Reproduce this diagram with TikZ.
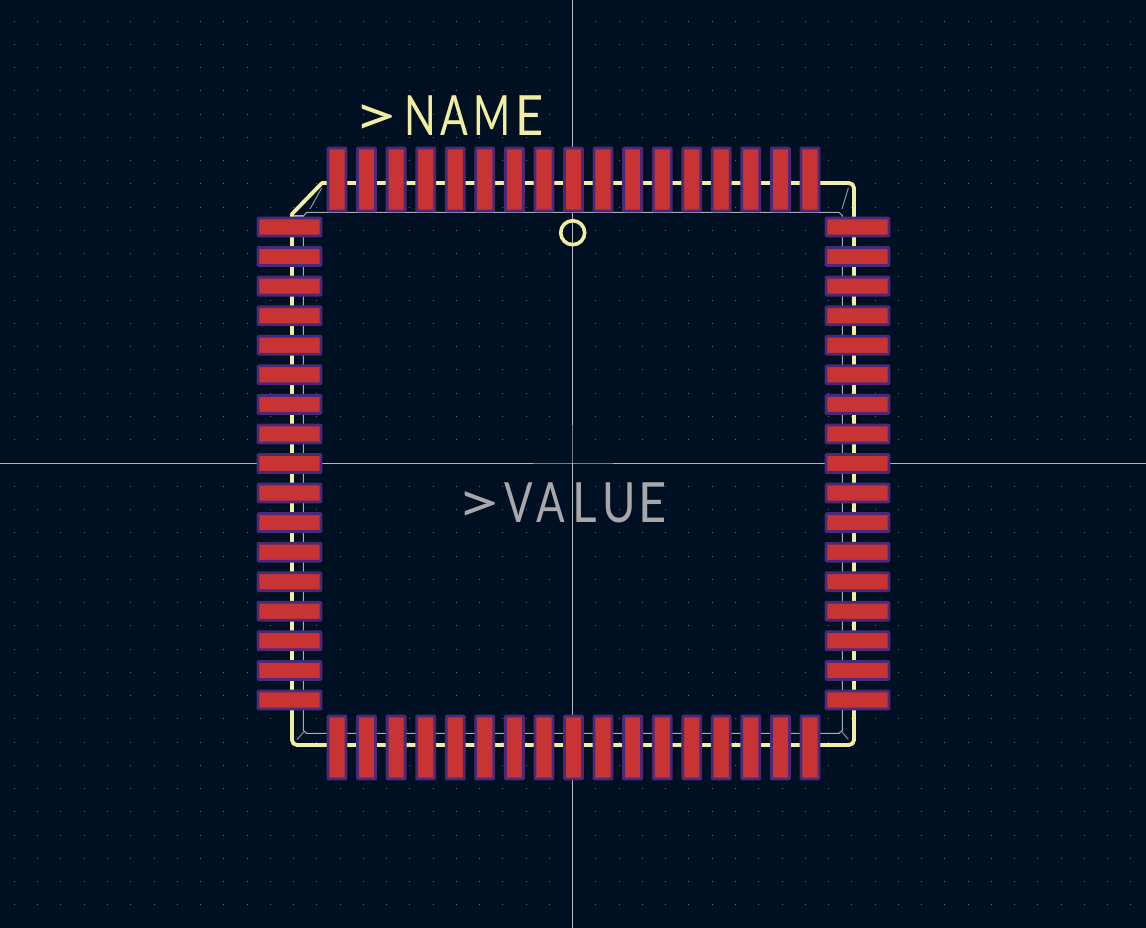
\documentclass[tikz,border=0pt]{standalone}
\usepackage{fontspec}
\setmainfont{Lato}
\newcommand\glyphat[3]{\makebox[#1pt][l]{\scalebox{#2}[1]{#3}}}
\begin{document}
\begin{tikzpicture}[x=1pt,y=-1pt,
  griddot/.style={fill=dotc,draw=none},
  axisline/.style={draw=axisc,line width=1pt},
  axisdim/.style={draw=axisd,line width=1pt},
  fabline/.style={draw=fabc,line width=1pt},
  fabthin/.style={draw=fabd,line width=1pt},
  silkline/.style={draw=silk,line width=3.8pt,line cap=round,line join=round},
  padbox/.style={draw=padedge,fill=padred,line width=2.8pt,rounded corners=0.8pt},
  bigtext/.style={inner sep=0,outer sep=0,font=\fontsize{55.5}{60}\selectfont,anchor=base west}
]
\definecolor{bgc}{HTML}{001023}
\definecolor{dotc}{HTML}{646C76}
\definecolor{axisc}{HTML}{B4B8BC}
\definecolor{axisd}{HTML}{7A7E84}
\definecolor{fabc}{HTML}{A8ACB4}
\definecolor{fabd}{HTML}{8F949C}
\definecolor{silk}{HTML}{F2EDA1}
\definecolor{valc}{HTML}{A8A8AC}
\definecolor{padred}{HTML}{C83434}
\definecolor{padedge}{HTML}{4A2A78}
\useasboundingbox (0,0) rectangle (1146,928);
\fill[bgc] (0,0) rectangle (1146,928);
% grid dots
\foreach \i in {-24,...,24}{
  \foreach \j in {-19,...,20}{
    \pgfmathsetmacro{\px}{floor(572.7+\i*23.26)}
    \pgfmathsetmacro{\py}{floor(463+\j*23.26)}
    \fill[griddot] (\px,\py) rectangle ++(1,1);
  }
}
% origin axes
\draw[axisline] (0,463.5) -- (533,463.5);
\draw[axisdim] (533,463.5) -- (613,463.5);
\draw[axisline] (613,463.5) -- (1146,463.5);
\draw[axisline] (572.7,0) -- (572.7,425);
\draw[axisdim] (572.7,425) -- (572.7,463);
\draw[axisline] (572.7,463) -- (572.7,928);
% fabrication outline
\draw[fabline] (306.7,212.3) -- (839,212.3) -- (842.3,215.5) -- (842.3,730.5) -- (839,733.3) -- (306.7,733.3) -- (303.4,730.5) -- (303.4,216) -- cycle;
\draw[fabline,line width=2pt] (293,216) -- (303.4,216);
\draw[fabthin] (310,209) -- (321.7,188);
\draw[fabthin] (842,209) -- (848.3,188);
\draw[fabthin] (297,739.5) -- (304,731.7);
\draw[fabthin] (841.7,731.7) -- (848.3,739.3);
% silkscreen outline
\draw[silkline] (292,222) -- (292,214) -- (322,183);
\draw[silkline,rounded corners=5pt] (322,183) -- (854,183) -- (854,745) -- (292,745) -- (292,222);
% pads
\foreach \n in {0,...,16}{
  \pgfmathsetmacro{\tx}{337+\n*29.56}
  \pgfmathsetmacro{\ly}{227+\n*29.56}
  \draw[padbox] (\tx-9,148) rectangle (\tx+9,211);
  \draw[padbox] (\tx-9,716) rectangle (\tx+9,779);
  \draw[padbox] (258,\ly-9) rectangle (321,\ly+9);
  \draw[padbox] (826,\ly-9) rectangle (889,\ly+9);
}
% origin marker
\node[draw=silk,line width=3.6pt,circle,minimum size=24pt,inner sep=0] (origin) at (572.7,232.7) {};
% texts
\node[bigtext,text=silk] (name) at (353,135.5) {\glyphat{51.2}{1.4}{>}\glyphat{36.5}{.75}{N}\glyphat{33}{.74}{A}\glyphat{42}{.72}{M}\glyphat{30}{.88}{E}};
\node[bigtext,text=valc] (value) at (456.5,522) {\glyphat{47.5}{1.4}{>}\glyphat{32.5}{.76}{V}\glyphat{35.5}{.76}{A}\glyphat{30.5}{.86}{L}\glyphat{35.5}{.82}{U}\glyphat{30}{.88}{E}};
\end{tikzpicture}
\end{document}
